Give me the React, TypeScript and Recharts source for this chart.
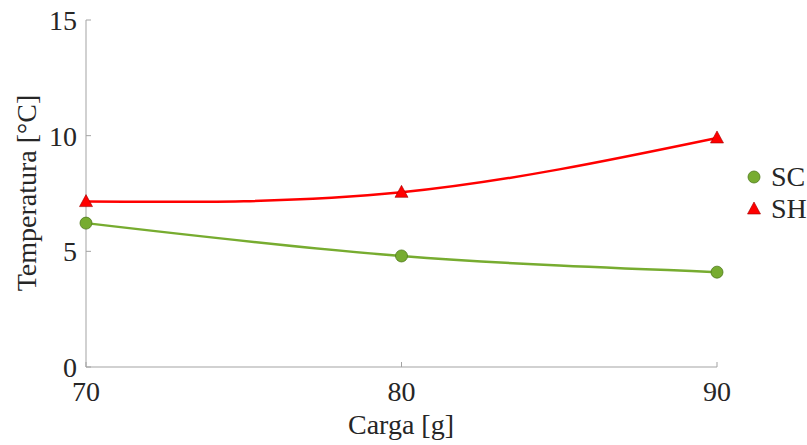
import { LineChart, Line, XAxis, YAxis } from "recharts";

const cargas = [70, 80, 90];
const scValues = [6.22, 4.8, 4.1];
const shValues = [7.15, 7.55, 9.9];
const xTicks = [70, 80, 90];
const yTicks = [0, 5, 10, 15];

const SC_COLOR = "#77AC30";
const SH_COLOR = "#FF0000";
const AXIS_COLOR = "#a3a3a3";
const TEXT_COLOR = "#262626";
const FONT = "'Liberation Serif', 'Times New Roman', serif";

const data = cargas.map((c, i) => ({ carga: c, SC: scValues[i], SH: shValues[i] }));

const Circle = ({ cx, cy }: any) => (
  <circle cx={cx} cy={cy} r={6} fill={SC_COLOR} stroke="#4f7a1c" strokeWidth={0.8} />
);

const Triangle = ({ cx, cy }: any) => (
  <path
    d={`M${cx},${cy - 7} L${cx + 6.5},${cy + 5} L${cx - 6.5},${cy + 5} Z`}
    fill={SH_COLOR}
    stroke="#a00000"
    strokeWidth={0.6}
  />
);

const LegendBox = () => (
  <div
    style={{
      position: "absolute",
      left: 745,
      top: 161,
      fontFamily: FONT,
      fontSize: 28,
      color: TEXT_COLOR,
      lineHeight: "32px",
    }}
  >
    <div style={{ display: "flex", alignItems: "center" }}>
      <svg width={18} height={18} style={{ marginRight: 8 }}>
        <circle cx={9} cy={9} r={6} fill={SC_COLOR} stroke="#4f7a1c" strokeWidth={0.8} />
      </svg>
      SC
    </div>
    <div style={{ display: "flex", alignItems: "center" }}>
      <svg width={18} height={18} style={{ marginRight: 8 }}>
        <path d="M9,2 L15.5,14 L2.5,14 Z" fill={SH_COLOR} stroke="#a00000" strokeWidth={0.6} />
      </svg>
      SH
    </div>
  </div>
);

const tickStyle = { fontFamily: FONT, fontSize: 28, fill: TEXT_COLOR };

export default function App() {
  return (
    <div style={{ position: "absolute", left: 0, top: 0, width: 807, height: 445, background: "#fff" }}>
      <LineChart
        width={807}
        height={445}
        data={data}
        margin={{ top: 20, right: 90, bottom: 0, left: 0 }}
      >
        <XAxis
          dataKey="carga"
          type="number"
          domain={[70, 90]}
          ticks={xTicks}
          height={78}
          stroke={AXIS_COLOR}
          tickSize={-5}
          tickMargin={19}
          tick={tickStyle}
          label={{
            content: () => (
              <text
                x={401}
                y={434}
                textAnchor="middle"
                fontFamily={FONT}
                fontSize={28}
                fill={TEXT_COLOR}
              >
                Carga [g]
              </text>
            ),
          }}
        />
        <YAxis
          type="number"
          domain={[0, 15]}
          ticks={yTicks}
          width={86}
          stroke={AXIS_COLOR}
          tickSize={-5}
          tickMargin={14}
          tick={tickStyle}
          label={{
            content: () => (
              <text
                x={36}
                y={193}
                transform="rotate(-90 36 193)"
                textAnchor="middle"
                fontFamily={FONT}
                fontSize={28}
                fill={TEXT_COLOR}
              >
                Temperatura [°C]
              </text>
            ),
          }}
        />
        <Line
          type="natural"
          dataKey="SC"
          stroke={SC_COLOR}
          strokeWidth={2.5}
          dot={<Circle />}
          activeDot={false}
          isAnimationActive={false}
        />
        <Line
          type="natural"
          dataKey="SH"
          stroke={SH_COLOR}
          strokeWidth={2.5}
          dot={<Triangle />}
          activeDot={false}
          isAnimationActive={false}
        />
      </LineChart>
      <LegendBox />
    </div>
  );
}
